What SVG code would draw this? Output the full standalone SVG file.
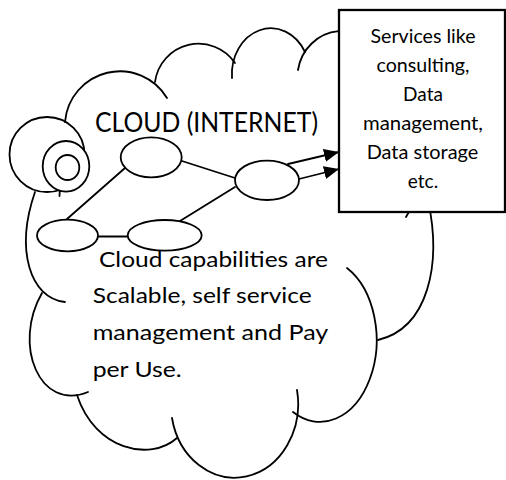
<svg xmlns="http://www.w3.org/2000/svg" width="506" height="480" viewBox="0 0 506 480">
<style>
.ln{fill:none;stroke:#000;stroke-width:1.8;stroke-linecap:round}
.nd{fill:#fff;stroke:#000;stroke-width:1.8}
.bx{fill:#fff;stroke:#000;stroke-width:2.3}
.t{font-family:Lato,"Liberation Sans",sans-serif;fill:#000}
.tb{font-size:19px;text-anchor:middle}
.tc{font-size:26px}
.tl{font-size:22px}
</style>
<defs>
<marker id="ah" markerWidth="15" markerHeight="13" refX="15" refY="6.5" orient="auto" markerUnits="userSpaceOnUse">
<path d="M0,0 L15,6.5 L0,13 z" fill="#000"/>
</marker>
</defs>
<rect width="506" height="480" fill="#fff"/>
<g id="cloud">
<path class="ln" d="M65 122 A55 55 0 0 1 167 98"/>
<path class="ln" d="M155 82 A44 44 0 0 1 235 63"/>
<path class="ln" d="M232 78 A39 46 0 0 1 305 52"/>
<path class="ln" d="M298 70 A45 46 0 0 1 385 62"/>
<path class="ln" d="M420 195 Q412 205 406 217"/>
<path class="ln" d="M428 200 C442 265 428 328 378 340"/>
<path class="ln" d="M347 268 A56 81 0 1 1 293 412"/>
<path class="ln" d="M297 390 A63 73 0 0 1 172 418"/>
<path class="ln" d="M177 438 C150 462 95 450 77 395"/>
<path class="ln" d="M88 392 C40 412 12 345 42 293"/>
<path class="ln" d="M65 302 C30 298 15 250 35 192"/>
<circle class="ln" cx="47" cy="154.5" r="37.5"/>
<path class="ln" d="M60 186 L59.5 196"/>
</g>
<g id="node-globe">
<ellipse class="nd" cx="66" cy="166.3" rx="23.3" ry="25.3"/>
<ellipse class="nd" cx="67.5" cy="167.5" rx="11.8" ry="12.5"/>
</g>
<g id="connectors">
<line class="ln" x1="125" y1="168" x2="67" y2="219"/>
<line class="ln" x1="182" y1="161" x2="235" y2="178"/>
<line class="ln" x1="98" y1="236.5" x2="128" y2="236.5"/>
<line class="ln" x1="180" y1="221" x2="235" y2="187"/>
<line class="ln" x1="288" y1="164" x2="339" y2="152" marker-end="url(#ah)"/>
<line class="ln" x1="299" y1="179" x2="339" y2="169" marker-end="url(#ah)"/>
</g>
<g id="node-e1"><ellipse class="nd" cx="151.2" cy="157.3" rx="30.5" ry="20"/></g>
<g id="node-e2"><ellipse class="nd" cx="67.5" cy="235.5" rx="30.5" ry="15.8"/></g>
<g id="node-e3"><ellipse class="nd" cx="164.7" cy="235.3" rx="37" ry="15.3"/></g>
<g id="node-e4"><ellipse class="nd" cx="267" cy="180.3" rx="32" ry="19.7"/></g>
<g id="node-services">
<rect class="bx" x="339" y="10" width="166" height="202"/>
<text class="t tb" x="423" y="42.7" textLength="105" lengthAdjust="spacingAndGlyphs">Services like</text>
<text class="t tb" x="423" y="71.8" textLength="93" lengthAdjust="spacingAndGlyphs">consulting,</text>
<text class="t tb" x="423" y="100.9">Data</text>
<text class="t tb" x="423" y="130" textLength="120" lengthAdjust="spacingAndGlyphs">management,</text>
<text class="t tb" x="422.5" y="159.1" textLength="111.6" lengthAdjust="spacingAndGlyphs">Data storage</text>
<text class="t tb" x="423" y="188.2">etc.</text>
</g>
<g id="label-cloud">
<text class="t tc" x="95" y="132" textLength="223" lengthAdjust="spacingAndGlyphs">CLOUD (INTERNET)</text>
</g>
<g id="label-capabilities">
<text class="t tl" x="99" y="267" textLength="229" lengthAdjust="spacingAndGlyphs">Cloud capabilities are</text>
<text class="t tl" x="92.7" y="303" textLength="219" lengthAdjust="spacingAndGlyphs">Scalable, self service</text>
<text class="t tl" x="92.7" y="340" textLength="235.6" lengthAdjust="spacingAndGlyphs">management and Pay</text>
<text class="t tl" x="92.7" y="376.7" textLength="89" lengthAdjust="spacingAndGlyphs">per Use.</text>
</g>
</svg>
